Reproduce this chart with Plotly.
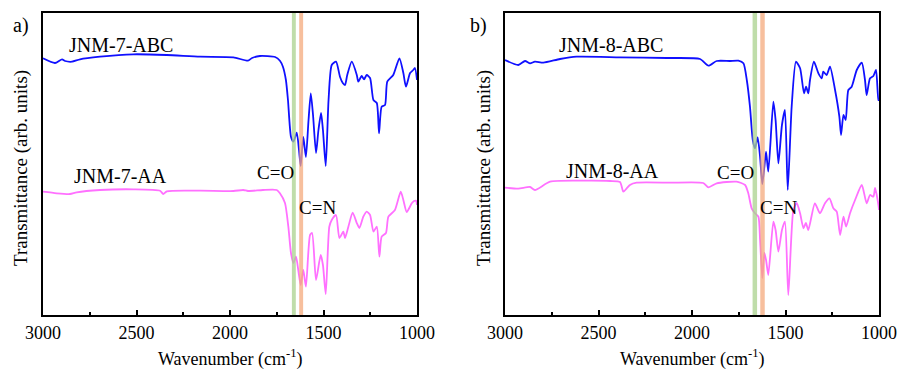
import plotly.graph_objects as go

# ---------------- data ----------------
# Panel a) JNM-7-ABC (blue)
wn_7abc = [3000, 2936, 2898, 2882, 2845, 2802, 2695, 2517, 2338, 2160, 1982, 1904, 1882, 1840, 1759,
           1733, 1717, 1701, 1690, 1674, 1661, 1643, 1631, 1622, 1608, 1594, 1580, 1568, 1556, 1540,
           1527, 1513, 1503, 1488, 1473, 1456, 1433, 1412, 1397, 1385, 1373, 1349, 1322, 1314, 1296,
           1283, 1269, 1251, 1233, 1215, 1203, 1189, 1171, 1159, 1127, 1094, 1073, 1059, 1037, 1020,
           1011, 1000]
t_7abc = [256.7, 252, 255.7, 254, 253.3, 255.7, 258.3, 260.7, 260, 258.3, 257.7, 254.3, 257, 259, 258,
          254.3, 248.3, 235, 215, 178.3, 173.3, 182.3, 165, 149, 178, 158, 195, 221.7, 200, 162,
          185, 202, 185, 149, 215, 250, 253.3, 238.3, 232, 230, 240, 253.3, 240, 233.3, 239,
          235.7, 240, 237, 215, 212, 181.7, 208.3, 210, 233.3, 240, 256.7, 242, 228.3, 242, 245,
          247, 235]

# Panel a) JNM-7-AA (pink)
wn_7aa = [3000, 2927, 2856, 2820, 2695, 2517, 2374, 2357, 2338, 2160, 1982, 1929, 1904, 1824, 1750,
          1733, 1706, 1688, 1674, 1661, 1647, 1635, 1622, 1608, 1594, 1572, 1561, 1540, 1515, 1503,
          1488, 1469, 1456, 1433, 1415, 1394, 1385, 1367, 1344, 1322, 1308, 1287, 1269, 1251, 1233,
          1215, 1201, 1189, 1166, 1153, 1118, 1087, 1073, 1055, 1028, 1016, 1005, 1000]
t_7aa = [123.3, 121.7, 121, 122.7, 125, 125.7, 124.3, 121, 123.7, 124.3, 124, 125, 124, 125, 125,
         121.7, 112, 88.3, 62, 52, 58.3, 45, 30, 45, 28.3, 80, 82, 35, 60, 50,
         21, 88.3, 95, 100, 77, 83.3, 77, 88.3, 102.3, 92, 87, 98.3, 103.3, 100, 83.3,
         88.3, 58.3, 78.3, 82, 98.3, 105, 123.3, 115, 103, 111.7, 114, 114.3, 110]

# Panel b) JNM-8-ABC (blue)
wn_8abc = [3000, 2929, 2893, 2866, 2840, 2795, 2706, 2617, 2385, 2135, 1957, 1912, 1868, 1797, 1752,
           1725, 1707, 1690, 1675, 1663, 1649, 1636, 1624, 1613, 1604, 1592, 1565, 1553, 1538, 1519,
           1503, 1488, 1467, 1444, 1422, 1401, 1390, 1378, 1369, 1348, 1324, 1306, 1298, 1280, 1262,
           1235, 1212, 1203, 1190, 1178, 1164, 1146, 1119, 1092, 1075, 1066, 1048, 1030, 1016, 1003,
           1000]
t_8abc = [255, 250, 254, 251.7, 253.3, 252.3, 256, 258.3, 257.7, 257, 256, 249.3, 254, 254, 254.3,
          251.7, 235, 208.3, 175, 166.7, 177.7, 158.3, 131, 148.3, 163.3, 143.3, 213.3, 195, 151.7, 190,
          205, 125, 208.3, 253.3, 246.7, 221.7, 228.3, 221.7, 235, 253.3, 241.7, 236.7, 243.3, 240, 248.3,
          225, 198.3, 180, 200, 195, 225, 228.3, 245, 252.3, 235, 220, 236.7, 239, 245, 215,
          215]

# Panel b) JNM-8-AA (pink)
wn_8aa = [3000, 2929, 2866, 2840, 2759, 2599, 2438, 2385, 2367, 2349, 2332, 2296, 2118, 1940, 1912,
          1868, 1762, 1716, 1699, 1681, 1663, 1645, 1636, 1624, 1613, 1604, 1592, 1565, 1553, 1538,
          1519, 1503, 1485, 1458, 1440, 1422, 1404, 1391, 1378, 1343, 1316, 1289, 1265, 1244, 1226,
          1208, 1190, 1176, 1155, 1128, 1092, 1066, 1048, 1030, 1021, 1003, 1000]
t_8aa = [127.3, 126.3, 128, 125, 133.3, 134.3, 134, 133, 123.3, 126.7, 130, 132.3, 132.3, 132, 127.7,
         131.7, 133.3, 130, 121.7, 106.7, 101.7, 98.3, 75, 37, 62, 55, 40, 93.3, 85, 63.3,
         85, 93.3, 20, 105, 112, 101.7, 86.7, 92, 85, 111.7, 101.7, 111.7, 116.7, 106.7, 103.3,
         80, 98.3, 88.3, 101.7, 115, 130, 111.7, 120, 118.3, 127, 110, 105]

# marker bands (cm-1)
co_band_a = (1669, 1648)
cn_band_a = (1630, 1609)
co_band_b = (1676, 1652)
cn_band_b = (1635, 1611)

x_ticks = [3000, 2500, 2000, 1500, 1000]

# ---------------- figure ----------------
W, H = 898, 369
FONT = "Liberation Serif, Times New Roman, serif"
BLUE = "#1010ff"
PINK = "#ff70ff"
GREEN = "#a9d18e"
ORANGE = "#f4a97c"


def px(v):
    return v / W


def py(v):
    return 1 - v / H


def line(color):
    return dict(color=color, width=1.8, shape="spline", smoothing=0.6)


fig = go.Figure()
fig.add_trace(go.Scatter(x=wn_7abc, y=t_7abc, mode="lines", line=line(BLUE),
                         xaxis="x", yaxis="y", showlegend=False))
fig.add_trace(go.Scatter(x=wn_7aa, y=t_7aa, mode="lines", line=line(PINK),
                         xaxis="x", yaxis="y", showlegend=False))
fig.add_trace(go.Scatter(x=wn_8abc, y=t_8abc, mode="lines", line=line(BLUE),
                         xaxis="x2", yaxis="y2", showlegend=False))
fig.add_trace(go.Scatter(x=wn_8aa, y=t_8aa, mode="lines", line=line(PINK),
                         xaxis="x2", yaxis="y2", showlegend=False))

top, bottom = 13, 315
xcommon = dict(range=[3000, 1000], showline=True, linecolor="black", linewidth=2, mirror=True,
               ticks="inside", ticklen=5, tickwidth=2, tickcolor="black", tickvals=x_ticks,
               minor=dict(ticks="inside", ticklen=3, tickwidth=2, dtick=250, tickcolor="black"),
               showgrid=False, zeroline=False, automargin=False,
               tickfont=dict(family=FONT, size=18, color="black"))
ycommon = dict(range=[0, 302], showline=True, linecolor="black", linewidth=2, mirror=True,
               showticklabels=False, ticks="", showgrid=False, zeroline=False, automargin=False)

fig.update_layout(
    width=W, height=H, margin=dict(l=0, r=0, t=0, b=0, autoexpand=False),
    paper_bgcolor="white", plot_bgcolor="white",
    xaxis=dict(domain=[px(43), px(417)], anchor="y", **xcommon),
    yaxis=dict(domain=[py(bottom), py(top)], anchor="x", **ycommon),
    xaxis2=dict(domain=[px(505), px(879)], anchor="y2", **xcommon),
    yaxis2=dict(domain=[py(bottom), py(top)], anchor="x2", **ycommon),
)

shapes = []
for xr, yr, band, col in [("x", "y", co_band_a, GREEN), ("x", "y", cn_band_a, ORANGE),
                          ("x2", "y2", co_band_b, GREEN), ("x2", "y2", cn_band_b, ORANGE)]:
    shapes.append(dict(type="rect", xref=xr, yref=yr + " domain", x0=band[0], x1=band[1],
                       y0=0, y1=1, fillcolor=col, opacity=0.75, line=dict(width=0), layer="above"))
fig.update_layout(shapes=shapes)


def ann(text, x, y, size, xanchor="center", textangle=0):
    return dict(text=text, x=px(x), y=py(y), xref="paper", yref="paper", showarrow=False,
                xanchor=xanchor, yanchor="middle", textangle=textangle,
                font=dict(family=FONT, size=size, color="black"))


annotations = [
    ann("a)", 21, 25, 20),
    ann("b)", 479, 25, 20),
    ann("JNM-7-ABC", 121, 45, 20),
    ann("JNM-7-AA", 120, 176, 20),
    ann("C=O", 275, 172, 19),
    ann("C=N", 317, 207, 19),
    ann("JNM-8-ABC", 611, 45, 20),
    ann("JNM-8-AA", 612, 171, 20),
    ann("C=O", 735, 172, 19),
    ann("C=N", 778, 207, 19),
    ann("Wavenumber (cm<sup>-1</sup>)", 230, 358, 18),
    ann("Wavenumber (cm<sup>-1</sup>)", 692, 358, 18),
    ann("Transmittance (arb. units)", 21, 168, 19, textangle=-90),
    ann("Transmittance (arb. units)", 484, 168, 19, textangle=-90),
]
fig.update_layout(annotations=annotations)

fig.write_html("out.html")
